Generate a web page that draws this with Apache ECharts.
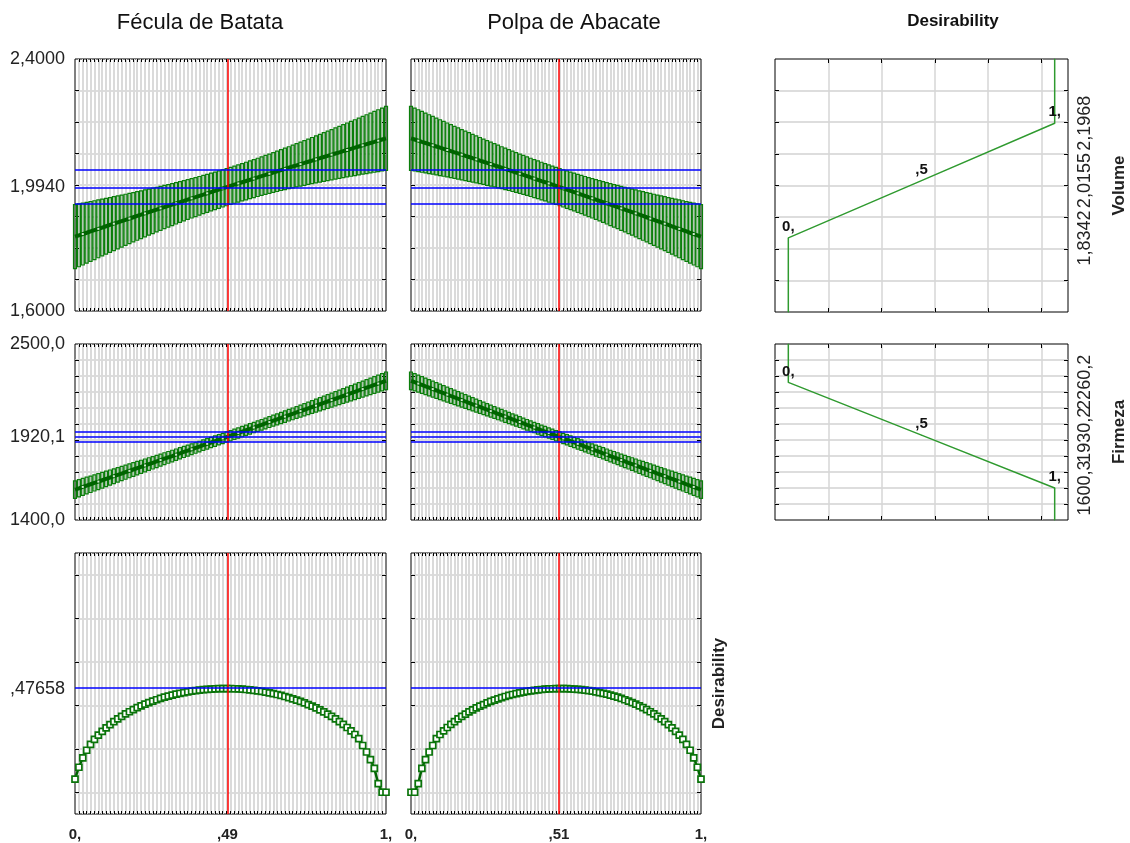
<!DOCTYPE html>
<html>
<head>
<meta charset="utf-8">
<script src="https://cdn.jsdelivr.net/npm/echarts@6/dist/echarts.min.js"></script>
<style>
  html, body { margin: 0; padding: 0; background: #fff; }
  #chart { width: 1130px; height: 843px; }
</style>
</head>
<body>
<div id="chart"></div>
<script>
// profile grid (Fécula de Batata proportion); Polpa de Abacate = 1 - Fécula
const xGrid = [0,0.0125,0.025,0.0375,0.05,0.0625,0.075,0.0875,0.1,0.1125,0.125,0.1375,0.15,0.1625,0.175,0.1875,0.2,0.2125,0.225,0.2375,
  0.25,0.2625,0.275,0.2875,0.3,0.3125,0.325,0.3375,0.35,0.3625,0.375,0.3875,0.4,0.4125,0.425,0.4375,0.45,0.4625,0.475,0.4875,
  0.5,0.5125,0.525,0.5375,0.55,0.5625,0.575,0.5875,0.6,0.6125,0.625,0.6375,0.65,0.6625,0.675,0.6875,0.7,0.7125,0.725,0.7375,
  0.75,0.7625,0.775,0.7875,0.8,0.8125,0.825,0.8375,0.85,0.8625,0.875,0.8875,0.9,0.9125,0.925,0.9375,0.95,0.9625,0.975,0.9875,1];

// Volume: predicted value and half width of the confidence band
const volMean = [1.8360,1.8402,1.8443,1.8484,1.8526,1.8567,1.8608,1.8649,1.8690,1.8731,
  1.8772,1.8813,1.8854,1.8895,1.8935,1.8976,1.9017,1.9057,1.9098,1.9138,
  1.9178,1.9218,1.9259,1.9299,1.9339,1.9379,1.9419,1.9459,1.9498,1.9538,
  1.9578,1.9617,1.9657,1.9696,1.9736,1.9775,1.9814,1.9854,1.9893,1.9932,
  1.9971,
  2.0010,2.0049,2.0088,2.0126,2.0165,2.0204,2.0242,2.0281,2.0319,2.0358,
  2.0396,2.0434,2.0473,2.0511,2.0549,2.0587,2.0625,2.0663,2.0700,2.0738,
  2.0776,2.0814,2.0851,2.0889,2.0926,2.0963,2.1001,2.1038,2.1075,2.1112,
  2.1149,2.1186,2.1223,2.1260,2.1297,2.1334,2.1370,2.1407,2.1444,2.1480];
const volHalf = [0.1015,0.0998,0.0982,0.0965,0.0949,0.0933,0.0917,0.0901,0.0886,0.0871,
  0.0856,0.0841,0.0826,0.0812,0.0798,0.0784,0.0771,0.0757,0.0745,0.0732,
  0.0720,0.0709,0.0697,0.0687,0.0676,0.0666,0.0657,0.0648,0.0640,0.0632,
  0.0625,0.0619,0.0613,0.0607,0.0603,0.0599,0.0596,0.0593,0.0591,0.0590,
  0.0590,
  0.0590,0.0591,0.0593,0.0596,0.0599,0.0603,0.0607,0.0613,0.0619,0.0625,
  0.0632,0.0640,0.0648,0.0657,0.0666,0.0676,0.0687,0.0697,0.0709,0.0720,
  0.0732,0.0745,0.0757,0.0771,0.0784,0.0798,0.0812,0.0826,0.0841,0.0856,
  0.0871,0.0886,0.0901,0.0917,0.0933,0.0949,0.0965,0.0982,0.0998,0.1015];

// Firmeza
const firMean = [1590.0,1598.3,1606.7,1615.1,1623.4,1631.8,1640.1,1648.5,1656.9,1665.3,
  1673.6,1682.0,1690.4,1698.8,1707.2,1715.6,1724.0,1732.4,1740.8,1749.3,
  1757.7,1766.1,1774.5,1783.0,1791.4,1799.8,1808.3,1816.7,1825.2,1833.6,
  1842.1,1850.6,1859.0,1867.5,1876.0,1884.4,1892.9,1901.4,1909.9,1918.4,
  1926.9,
  1935.4,1943.9,1952.4,1960.9,1969.4,1978.0,1986.5,1995.0,2003.6,2012.1,
  2020.6,2029.2,2037.7,2046.3,2054.8,2063.4,2072.0,2080.5,2089.1,2097.7,
  2106.3,2114.8,2123.4,2132.0,2140.6,2149.2,2157.8,2166.4,2175.0,2183.6,
  2192.3,2200.9,2209.5,2218.1,2226.8,2235.4,2244.1,2252.7,2261.3,2270.0];
const firHalf = [55.0,54.1,53.2,52.3,51.4,50.6,49.7,48.8,48.0,47.2,
  46.4,45.6,44.8,44.0,43.2,42.5,41.8,41.1,40.4,39.7,
  39.0,38.4,37.8,37.2,36.7,36.1,35.6,35.1,34.7,34.3,
  33.9,33.5,33.2,32.9,32.7,32.5,32.3,32.2,32.1,32.0,
  32.0,
  32.0,32.1,32.2,32.3,32.5,32.7,32.9,33.2,33.5,33.9,
  34.3,34.7,35.1,35.6,36.1,36.7,37.2,37.8,38.4,39.0,
  39.7,40.4,41.1,41.8,42.5,43.2,44.0,44.8,45.6,46.4,
  47.2,48.0,48.8,49.7,50.6,51.4,52.3,53.2,54.1,55.0];

// overall desirability
const desir = [0.0600,0.1150,0.1580,0.1930,0.2200,0.2431,0.2626,0.2802,0.2962,0.3110,
  0.3247,0.3374,0.3492,0.3602,0.3702,0.3799,0.3889,0.3971,0.4051,0.4123,
  0.4190,0.4253,0.4314,0.4369,0.4420,0.4467,0.4510,0.4550,0.4584,0.4618,
  0.4647,0.4672,0.4696,0.4714,0.4731,0.4744,0.4754,0.4762,0.4765,0.4766,
  0.4764,
  0.4758,0.4750,0.4739,0.4724,0.4707,0.4686,0.4662,0.4636,0.4604,0.4572,
  0.4535,0.4494,0.4452,0.4403,0.4353,0.4297,0.4238,0.4175,0.4106,0.4033,
  0.3957,0.3875,0.3787,0.3694,0.3593,0.3487,0.3374,0.3250,0.3119,0.2978,
  0.2822,0.2655,0.2470,0.2150,0.1850,0.1500,0.1100,0.0400,0,0];

const xOptFecula = 0.49;
const xOptPolpa = 0.51;
const volRef = [1.935, 1.994, 2.053];
const firRef = [1888.0, 1920.1, 1952.2];
const desRef = [0.47658];

// desirability functions of the responses
const desLevels = [0, 0.5, 1];
const volLimits = [1.8342, 2.0155, 2.1968];
const firLimits = [2260.2, 1930.2, 1600.3];

const volRange = [1.6, 2.4];
const firRange = [1400, 2500];
const desRange = [-0.1, 1.1];
const volTicks = [1.7, 1.8, 1.9, 2.0, 2.1, 2.2, 2.3];
const firTicks = [1500, 1600, 1700, 1800, 1900, 2000, 2100, 2200, 2300, 2400];
const desTicks = [0, 0.2, 0.4, 0.6, 0.8, 1.0];
const desAxisRange = [-0.05, 1.05];
const desAxisTicks = [0.15, 0.35, 0.55, 0.75, 0.95];

const FONT = '"Liberation Sans", Arial, sans-serif';
const GREEN = '#0a7e0a';
const DARK_GREEN = '#006400';
const TEXT = '#222';

function fmt(v, dec) {
    let s = v.toFixed(dec).replace('.', ',');
    if (s.indexOf('0,') === 0 && dec > 0) s = s.slice(1);
    return s;
}
function fracFmt(v) {
    if (v === 0) return '0,';
    if (v === 1) return '1,';
    return fmt(v, 2).replace(/0+$/, '');
}
const rev = a => a.slice().reverse();

const chart = echarts.init(document.getElementById('chart'));

const panels = [
    {left: 75, top: 59, width: 311, height: 252},   // Fécula / Volume
    {left: 411, top: 59, width: 290, height: 252},  // Polpa / Volume
    {left: 75, top: 344, width: 311, height: 176},  // Fécula / Firmeza
    {left: 411, top: 344, width: 290, height: 176}, // Polpa / Firmeza
    {left: 75, top: 553, width: 311, height: 261},  // Fécula / Desirability
    {left: 411, top: 553, width: 290, height: 261}, // Polpa / Desirability
    {left: 775, top: 59, width: 293, height: 253},  // Volume desirability
    {left: 775, top: 344, width: 293, height: 176}  // Firmeza desirability
];

let grids = [], xAxes = [], yAxes = [], extraY = [], series = [];

const innerX = xGrid.slice(1, -1);
const noLine = {show: false, onZero: false};

function addAxes(gi, cfg) {
    grids.push(Object.assign({show: true, borderColor: '#000', borderWidth: 1, backgroundColor: '#fff', containLabel: false}, panels[gi]));
    const tick = (vals, len) => ({show: true, inside: true, length: len, customValues: vals, lineStyle: {color: '#000', width: 1}});
    xAxes.push({
        gridIndex: gi, type: 'value', position: 'bottom', min: cfg.xRange[0], max: cfg.xRange[1],
        axisLine: noLine, axisTick: tick(cfg.xTicks, cfg.xTickLen),
        splitLine: {show: true, lineStyle: {color: cfg.vGridColor, width: cfg.vGridWidth}},
        axisLabel: cfg.xLabels ? {
            show: true, customValues: cfg.xLabels, formatter: fracFmt, margin: 13,
            fontSize: 15, fontWeight: 'bold', color: TEXT, fontFamily: FONT
        } : {show: false}
    });
    xAxes.push({
        gridIndex: gi, type: 'value', position: 'top', min: cfg.xRange[0], max: cfg.xRange[1],
        axisLine: noLine, axisTick: tick(cfg.xTicks, cfg.xTickLen),
        splitLine: {show: false}, axisLabel: {show: false}
    });
    yAxes.push({
        gridIndex: gi, type: 'value', position: 'left', min: cfg.yRange[0], max: cfg.yRange[1],
        axisLine: noLine, axisTick: tick(cfg.yTicks, 4),
        splitLine: {show: true, lineStyle: {color: '#d2d2d2', width: 1.6}},
        axisLabel: cfg.yLabels ? {
            show: true, customValues: cfg.yLabels, formatter: v => fmt(v, cfg.yDec), margin: 10,
            fontSize: 18, color: TEXT, fontFamily: FONT
        } : {show: false}
    });
    const right = {
        gridIndex: gi, type: 'value', position: 'right', min: cfg.yRange[0], max: cfg.yRange[1],
        axisLine: noLine, axisTick: tick(cfg.yTicks, 4),
        splitLine: {show: false}, axisLabel: {show: false}
    };
    if (cfg.name) {
        right.name = cfg.name;
        right.nameLocation = 'middle';
        right.nameGap = cfg.nameGap;
        right.nameTextStyle = {fontSize: 17, fontWeight: 'bold', color: TEXT, fontFamily: FONT};
    }
    yAxes.push(right);
    // the limit labels touch each other, so each one gets its own axis
    (cfg.rLabels || []).forEach(v => {
        extraY.push({
            gridIndex: gi, type: 'value', position: 'right', min: cfg.yRange[0], max: cfg.yRange[1],
            axisLine: noLine, axisTick: {show: false}, splitLine: {show: false},
            axisLabel: {
                show: true, customValues: [v], formatter: t => fmt(t, cfg.yDec), rotate: 90, margin: 8,
                fontSize: 18, color: TEXT, fontFamily: FONT
            }
        });
    });
}

function renderBar(params, api) {
    const hi = api.coord([api.value(0), api.value(2)]);
    const lo = api.coord([api.value(0), api.value(1)]);
    return {
        type: 'rect',
        shape: {x: hi[0] - 1.5, y: hi[1], width: 3, height: lo[1] - hi[1]},
        style: {fill: 'rgba(0,120,0,0.18)', stroke: GREEN, lineWidth: 1.2}
    };
}

function refLines(gi, xOpt, yVals) {
    series.push({
        type: 'line', xAxisIndex: 2 * gi, yAxisIndex: 2 * gi, data: [], z: 1,
        markLine: {
            silent: true, symbol: ['none', 'none'], label: {show: false}, animation: false,
            data: [{xAxis: xOpt, lineStyle: {color: '#ff0000', width: 1.5, type: 'solid'}}].concat(
                yVals.map(v => ({yAxis: v, lineStyle: {color: '#0000ff', width: 1.5, type: 'solid'}})))
        }
    });
}

function profile(gi, mean, half) {
    series.push({
        type: 'custom', xAxisIndex: 2 * gi, yAxisIndex: 2 * gi, z: 3,
        renderItem: renderBar,
        data: xGrid.map((x, i) => [x, mean[i] - half[i], mean[i] + half[i]])
    });
    series.push({
        type: 'line', xAxisIndex: 2 * gi, yAxisIndex: 2 * gi, z: 4,
        data: xGrid.map((x, i) => [x, mean[i]]),
        symbol: 'rect', showSymbol: true, showAllSymbol: true,
        symbolSize: (v, p) => (p.dataIndex % 4 === 2 ? 2 : 0),
        lineStyle: {color: DARK_GREEN, width: 4},
        itemStyle: {color: '#d8ecd8', borderWidth: 0}
    });
}

function desirCurve(gi, vals) {
    series.push({
        type: 'line', xAxisIndex: 2 * gi, yAxisIndex: 2 * gi, z: 4,
        data: xGrid.map((x, i) => [x, vals[i]]),
        symbol: 'rect', symbolSize: 6, showSymbol: true, showAllSymbol: true,
        lineStyle: {color: DARK_GREEN, width: 2.5},
        itemStyle: {color: '#fff', borderColor: '#0a740a', borderWidth: 1.7}
    });
}

function desirFunction(gi, limits, yRange) {
    const rising = limits[0] < limits[2];
    const pts = [[0, rising ? yRange[0] : yRange[1]]]
        .concat(desLevels.map((d, i) => [d, limits[i]]))
        .concat([[1, rising ? yRange[1] : yRange[0]]]);
    series.push({
        type: 'line', xAxisIndex: 2 * gi, yAxisIndex: 2 * gi, z: 4,
        data: pts.map((p, i) => ({
            value: p,
            label: {show: i > 0 && i < pts.length - 1, formatter: fracFmt(p[0])}
        })),
        symbol: 'circle', symbolSize: 1, showSymbol: true,
        lineStyle: {color: '#2f9a2f', width: 1.5},
        itemStyle: {color: '#2f9a2f'},
        label: {position: 'top', distance: 3, fontSize: 15, fontWeight: 'bold', color: '#111', fontFamily: FONT}
    });
}

const leftCfg = {xRange: [0, 1], xTicks: innerX, xTickLen: 3, vGridColor: '#dadada', vGridWidth: 2};

// row 1: Volume
addAxes(0, Object.assign({}, leftCfg, {yRange: volRange, yTicks: volTicks, yLabels: [volRange[0], volRef[1], volRange[1]], yDec: 4}));
addAxes(1, Object.assign({}, leftCfg, {yRange: volRange, yTicks: volTicks, yDec: 4}));
// row 2: Firmeza
addAxes(2, Object.assign({}, leftCfg, {yRange: firRange, yTicks: firTicks, yLabels: [firRange[0], firRef[1], firRange[1]], yDec: 1}));
addAxes(3, Object.assign({}, leftCfg, {yRange: firRange, yTicks: firTicks, yDec: 1}));
// row 3: Desirability
addAxes(4, Object.assign({}, leftCfg, {yRange: desRange, yTicks: desTicks, yLabels: desRef, yDec: 5, xLabels: [0, xOptFecula, 1]}));
addAxes(5, Object.assign({}, leftCfg, {yRange: desRange, yTicks: desTicks, yDec: 5, xLabels: [0, xOptPolpa, 1],
    name: 'Desirability', nameGap: 10}));
// right column: individual desirability functions
const rightCfg = {xRange: desAxisRange, xTicks: desAxisTicks, xTickLen: 4, vGridColor: '#d6d6d6', vGridWidth: 1.5};
addAxes(6, Object.assign({}, rightCfg, {yRange: volRange, yTicks: volTicks, yDec: 4, rLabels: volLimits, name: 'Volume', nameGap: 43}));
addAxes(7, Object.assign({}, rightCfg, {yRange: firRange, yTicks: firTicks, yDec: 1, rLabels: firLimits, name: 'Firmeza', nameGap: 43}));

refLines(0, xOptFecula, volRef);
profile(0, volMean, volHalf);
refLines(1, xOptPolpa, volRef);
profile(1, rev(volMean), rev(volHalf));
refLines(2, xOptFecula, firRef);
profile(2, firMean, firHalf);
refLines(3, xOptPolpa, firRef);
profile(3, rev(firMean), rev(firHalf));
refLines(4, xOptFecula, desRef);
desirCurve(4, desir);
refLines(5, xOptPolpa, desRef);
desirCurve(5, rev(desir));
desirFunction(6, volLimits, volRange);
desirFunction(7, firLimits, firRange);

const titleFont = 'normal 22px ' + FONT;
const option = {
    animation: false,
    backgroundColor: '#fff',
    textStyle: {fontFamily: FONT},
    graphic: [
        {type: 'text', x: 200, y: 23, style: {text: 'Fécula de Batata', font: titleFont, fill: '#111', align: 'center', verticalAlign: 'middle'}},
        {type: 'text', x: 574, y: 23, style: {text: 'Polpa de Abacate', font: titleFont, fill: '#111', align: 'center', verticalAlign: 'middle'}},
        {type: 'text', x: 953, y: 21, style: {text: 'Desirability', font: 'bold 17px ' + FONT, fill: '#111', align: 'center', verticalAlign: 'middle'}}
    ],
    grid: grids,
    xAxis: xAxes,
    yAxis: yAxes.concat(extraY),
    series: series
};
chart.setOption(option);
</script>
</body>
</html>
